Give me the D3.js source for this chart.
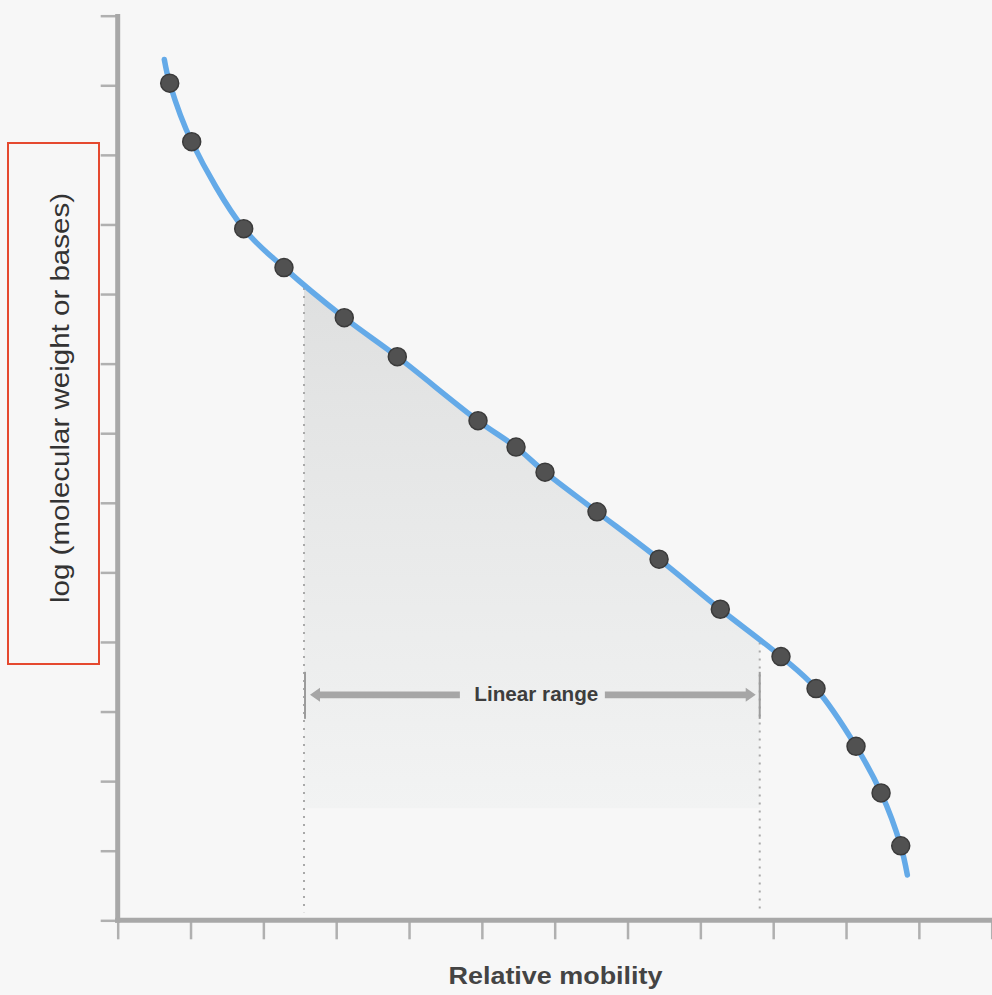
<!DOCTYPE html>
<html><head><meta charset="utf-8">
<script src="https://cdn.jsdelivr.net/npm/d3@7"></script>
<style>html,body{margin:0;padding:0;background:#f7f7f7;} svg{display:block}</style>
</head><body>
<svg id="chart" width="992" height="995"></svg>
<script>
// ---- data ----
const xTickValues = [0,1,2,3,4,5,6,7,8,9,10,11,12];
const yTickValues = [0,1,2,3,4,5,6,7,8,9,10,11,12,13];
const mobility = [0.714,1.016,1.730,2.283,3.111,3.839,4.947,5.469,5.867,6.581,7.433,8.274,9.107,9.588,10.137,10.481,10.751];
const logSize  = [12.03,11.19,9.94,9.38,8.66,8.10,7.18,6.80,6.44,5.87,5.19,4.47,3.79,3.33,2.50,1.83,1.07];
const curveStart = [0.640, 12.37];
const curveEnd = [10.842, 0.65];
const linearRange = [2.558, 8.815];
const shadeFloor = 1.61;
const arrowLevel = 3.24;
const xLabel = "Relative mobility";
const yLabel = "log (molecular weight or bases)";
const rangeLabel = "Linear range";

// ---- setup ----
const svg = d3.select("#chart");
const x = d3.scaleLinear().domain([0,12]).range([117.7, 991.7]);
const y = d3.scaleLinear().domain([0,13]).range([920.3, 15.7]);

svg.append("rect").attr("width",992).attr("height",995).attr("fill","#f7f7f7");

const points = mobility.map((m,i)=>({x:m, y:logSize[i]}));
const curvePts = [{x:curveStart[0],y:curveStart[1]}, ...points, {x:curveEnd[0],y:curveEnd[1]}];

const defs = svg.append("defs");
const grad = defs.append("linearGradient").attr("id","shadeGrad")
  .attr("gradientUnits","userSpaceOnUse").attr("x1",0).attr("x2",0)
  .attr("y1", y(9.0)).attr("y2", y(shadeFloor));
grad.append("stop").attr("offset","0%").attr("stop-color","#dfe0e0");
grad.append("stop").attr("offset","50%").attr("stop-color","#e9eaea");
grad.append("stop").attr("offset","100%").attr("stop-color","#f2f3f3");

defs.append("clipPath").attr("id","shadeClip").append("rect")
  .attr("x", x(linearRange[0])).attr("y", 0)
  .attr("width", x(linearRange[1]) - x(linearRange[0]))
  .attr("height", y(shadeFloor));

const curveType = d3.curveCatmullRom.alpha(0.5);

// shaded area under the linear section
const area = d3.area().x(d=>x(d.x)).y0(y(0)).y1(d=>y(d.y)).curve(curveType);
svg.append("path").datum(curvePts).attr("d", area)
  .attr("fill","url(#shadeGrad)").attr("clip-path","url(#shadeClip)");

// invisible curve for sampling
const line = d3.line().x(d=>x(d.x)).y(d=>y(d.y)).curve(curveType);
const probe = svg.append("path").datum(curvePts).attr("d", line).attr("fill","none").attr("stroke","none");
function curveYAt(px){
  const node = probe.node(); const L = node.getTotalLength();
  let lo=0, hi=L;
  for(let i=0;i<40;i++){ const mid=(lo+hi)/2; if(node.getPointAtLength(mid).x < px) lo=mid; else hi=mid; }
  return node.getPointAtLength((lo+hi)/2).y;
}

// dotted guides
linearRange.forEach(v=>{
  svg.append("line").attr("x1",x(v)).attr("x2",x(v))
    .attr("y1", curveYAt(x(v))+3).attr("y2", y(0)-8)
    .attr("stroke","#a9a9a9").attr("stroke-width",2).attr("stroke-dasharray","2,6");
});

// arrow
const ay = y(arrowLevel);
const xl = x(linearRange[0]), xr = x(linearRange[1]);
const mid = (xl+xr)/2;
svg.append("text").attr("x", mid + 4.5).attr("y", ay+6)
  .attr("text-anchor","middle").attr("font-family","'Liberation Sans', Arial, sans-serif")
  .attr("font-weight","bold").attr("font-size",20).attr("fill","#3d3d3d")
  .attr("textLength",124).attr("lengthAdjust","spacingAndGlyphs").text(rangeLabel);
const gapL = mid - 72, gapR = mid + 73;
const hh=7, sh=3.4, hl=10;
const lt = xl+6, rt = xr-4;
const leftArrow = [[lt,ay],[lt+hl,ay-hh],[lt+hl,ay-sh],[gapL,ay-sh],[gapL,ay+sh],[lt+hl,ay+sh],[lt+hl,ay+hh]];
const rightArrow = [[rt,ay],[rt-hl,ay-hh],[rt-hl,ay-sh],[gapR,ay-sh],[gapR,ay+sh],[rt-hl,ay+sh],[rt-hl,ay+hh]];
[leftArrow,rightArrow].forEach(p=>svg.append("polygon").attr("points",p.map(q=>q.join(",")).join(" ")).attr("fill","#a6a6a6"));
[xl+1, xr].forEach(bx=>svg.append("line").attr("x1",bx).attr("x2",bx).attr("y1",ay-23).attr("y2",ay+24)
  .attr("stroke","#9c9c9c").attr("stroke-width",2));

// axes
const yAxis = svg.append("g").attr("transform",`translate(${x(0)},0)`)
  .call(d3.axisLeft(y).tickValues(yTickValues).tickSize(17).tickSizeOuter(0).tickFormat(""));
const xAxis = svg.append("g").attr("transform",`translate(0,${y(0)})`)
  .call(d3.axisBottom(x).tickValues(xTickValues).tickSize(19).tickSizeOuter(0).tickFormat(""));
[yAxis,xAxis].forEach(g=>{
  g.selectAll(".tick line").attr("stroke","#b0b0b0").attr("stroke-width",2.5);
  g.select(".domain").remove();
});
svg.append("line").attr("x1",x(0)).attr("x2",x(0)).attr("y1",14).attr("y2",y(0)+2.5)
  .attr("stroke","#a8a8a8").attr("stroke-width",5);
svg.append("line").attr("x1",x(0)-2.5).attr("x2",992).attr("y1",y(0)).attr("y2",y(0))
  .attr("stroke","#a8a8a8").attr("stroke-width",5);

// curve
svg.append("path").datum(curvePts).attr("d", line).attr("fill","none")
  .attr("stroke","#64aae8").attr("stroke-width",5.5).attr("stroke-linecap","round");

// dots
svg.append("g").selectAll("circle").data(points).join("circle")
  .attr("cx",d=>x(d.x)).attr("cy",d=>y(d.y)).attr("r",9)
  .attr("fill","#515151").attr("stroke","#3b3b3b").attr("stroke-width",1.5);

// labels
svg.append("text").attr("x",555.5).attr("y",983.5).attr("text-anchor","middle")
  .attr("font-family","'Liberation Sans', Arial, sans-serif").attr("font-weight","bold")
  .attr("font-size",23).attr("fill","#444").attr("textLength",214).attr("lengthAdjust","spacingAndGlyphs")
  .text(xLabel);
svg.append("text").attr("transform","translate(68.5,398) rotate(-90)").attr("text-anchor","middle")
  .attr("font-family","'Liberation Sans', Arial, sans-serif")
  .attr("font-size",26).attr("fill","#333").attr("textLength",410).attr("lengthAdjust","spacingAndGlyphs")
  .text(yLabel);

// highlight box
svg.append("rect").attr("x",8).attr("y",143).attr("width",91).attr("height",521)
  .attr("fill","none").attr("stroke","#e5492f").attr("stroke-width",2);
</script>
</body></html>
